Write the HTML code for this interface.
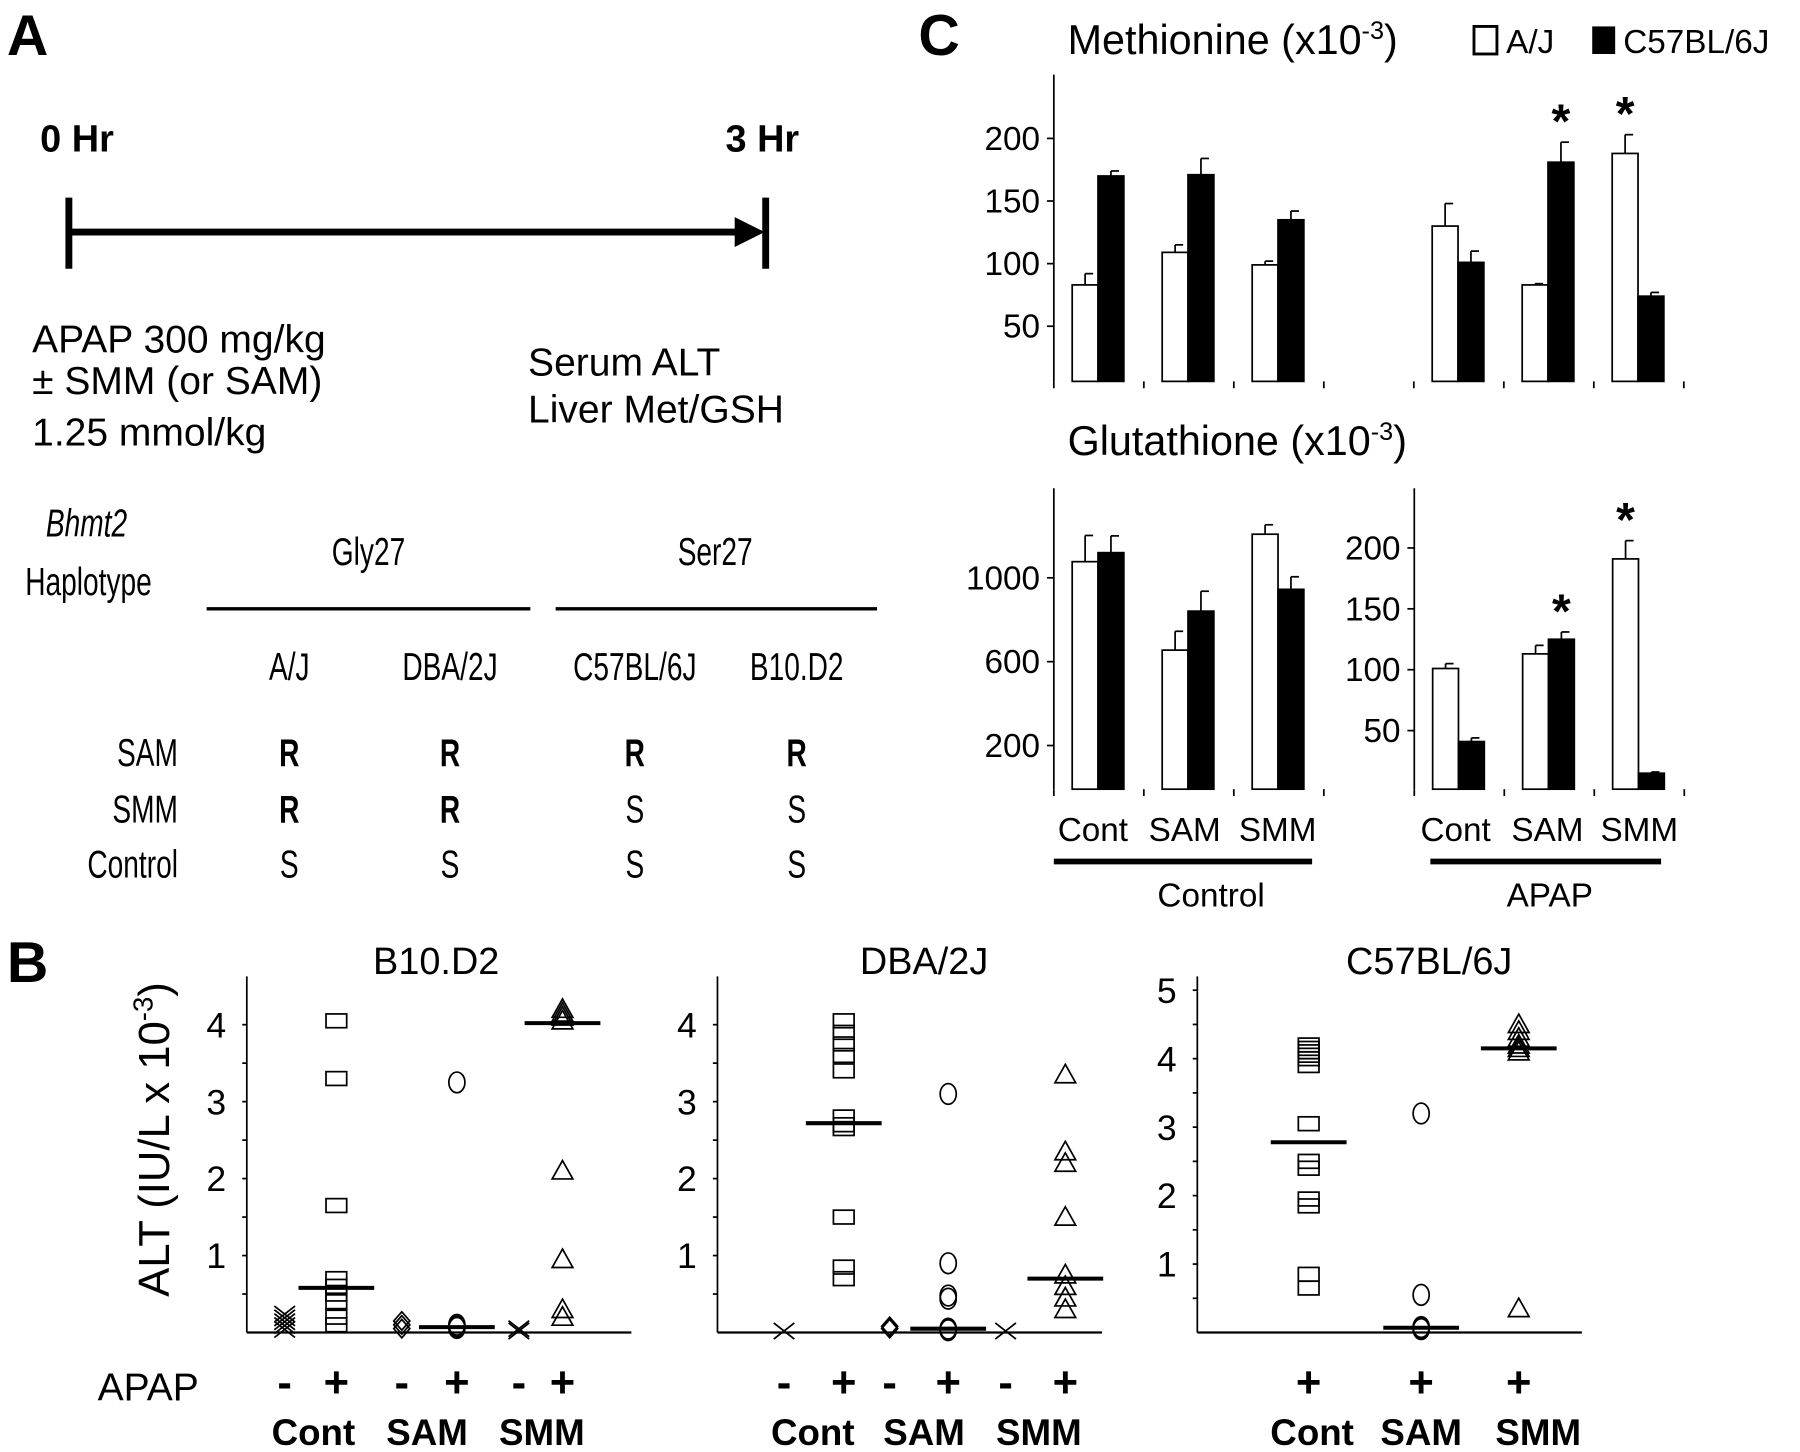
<!DOCTYPE html>
<html><head><meta charset="utf-8"><style>
html,body{margin:0;padding:0;background:#fff}
svg{display:block}
text{font-family:"Liberation Sans",sans-serif;fill:#000}
</style></head><body>
<svg id="fig" width="1800" height="1452" viewBox="0 0 1568 1264" preserveAspectRatio="none" xmlns="http://www.w3.org/2000/svg">
<g>
<text x="6" y="48" font-size="50" font-weight="bold">A</text>
<text x="35" y="132" font-size="33" font-weight="bold">0 Hr</text>
<text x="632" y="132" font-size="33" font-weight="bold">3 Hr</text>
<line x1="60" y1="202" x2="648" y2="202" stroke="#000" stroke-width="6"/>
<line x1="60" y1="172" x2="60" y2="234" stroke="#000" stroke-width="6"/>
<polygon points="640,189 666,202 640,215" fill="#000"/>
<line x1="667" y1="172" x2="667" y2="234" stroke="#000" stroke-width="6"/>
<text x="28" y="307" font-size="34">APAP 300 mg/kg</text>
<text x="28" y="343" font-size="34">± SMM (or SAM)</text>
<text x="28" y="388" font-size="34">1.25 mmol/kg</text>
<text x="460" y="327" font-size="34">Serum ALT</text>
<text x="460" y="368" font-size="34">Liver Met/GSH</text>
<g font-size="34">
<text transform="translate(40,467) scale(0.72,1)" font-style="italic">Bhmt2</text>
<text transform="translate(22,518) scale(0.72,1)">Haplotype</text>
<text transform="translate(321,492) scale(0.72,1)" text-anchor="middle">Gly27</text>
<text transform="translate(623,492) scale(0.72,1)" text-anchor="middle">Ser27</text>
<line x1="180" y1="530" x2="462" y2="530" stroke="#000" stroke-width="3"/>
<line x1="484" y1="530" x2="764" y2="530" stroke="#000" stroke-width="3"/>
<text transform="translate(252,592) scale(0.72,1)" text-anchor="middle">A/J</text>
<text transform="translate(392,592) scale(0.72,1)" text-anchor="middle">DBA/2J</text>
<text transform="translate(553,592) scale(0.72,1)" text-anchor="middle">C57BL/6J</text>
<text transform="translate(694,592) scale(0.72,1)" text-anchor="middle">B10.D2</text>
<text transform="translate(155,667) scale(0.72,1)" text-anchor="end">SAM</text>
<text transform="translate(155,716) scale(0.72,1)" text-anchor="end">SMM</text>
<text transform="translate(155,764) scale(0.72,1)" text-anchor="end">Control</text>
<g text-anchor="middle">
<text transform="translate(252,667) scale(0.72,1)" font-weight="bold">R</text><text transform="translate(392,667) scale(0.72,1)" font-weight="bold">R</text><text transform="translate(553,667) scale(0.72,1)" font-weight="bold">R</text><text transform="translate(694,667) scale(0.72,1)" font-weight="bold">R</text>
<text transform="translate(252,716) scale(0.72,1)" font-weight="bold">R</text><text transform="translate(392,716) scale(0.72,1)" font-weight="bold">R</text><text transform="translate(553,716) scale(0.72,1)">S</text><text transform="translate(694,716) scale(0.72,1)">S</text>
<text transform="translate(252,764) scale(0.72,1)">S</text><text transform="translate(392,764) scale(0.72,1)">S</text><text transform="translate(553,764) scale(0.72,1)">S</text><text transform="translate(694,764) scale(0.72,1)">S</text>
</g></g>
</g>
<g id="pc">
<text x="800" y="48" font-size="50" font-weight="bold">C</text>
<text x="930" y="47" font-size="36">Methionine (x10<tspan dy="-13" font-size="22">-3</tspan><tspan dy="13">)</tspan></text>
<rect x="1284" y="23" width="20" height="24" fill="#fff" stroke="#000" stroke-width="2.5"/>
<text x="1312" y="46" font-size="29">A/J</text>
<rect x="1387" y="23" width="20" height="24" fill="#000"/>
<text x="1414" y="46" font-size="29">C57BL/6J</text>
<text x="930" y="396" font-size="36">Glutathione (x10<tspan dy="-13" font-size="22">-3</tspan><tspan dy="13">)</tspan></text>
<g font-size="29" text-anchor="middle">
<text x="952" y="732">Cont</text><text x="1032" y="732">SAM</text><text x="1113" y="732">SMM</text>
<text x="1268" y="732">Cont</text><text x="1348" y="732">SAM</text><text x="1428" y="732">SMM</text>
<text x="1055" y="789">Control</text><text x="1350" y="789">APAP</text>
</g>
<line x1="918" y1="750" x2="1143" y2="750" stroke="#000" stroke-width="5"/>
<line x1="1246" y1="750" x2="1447" y2="750" stroke="#000" stroke-width="5"/>
</g>
<g id="pb">
<text x="6" y="855" font-size="50" font-weight="bold">B</text>
<text transform="translate(147,992) rotate(-90)" font-size="38" text-anchor="middle">ALT (IU/L x 10<tspan dy="-14" font-size="24">-3</tspan><tspan dy="14">)</tspan></text>
<text x="85" y="1219" font-size="34">APAP</text>
</g>
</svg>
<script>
const NS="http://www.w3.org/2000/svg";
// ---- Panel C data ----
const metCats=["Cont","SAM","SMM","","Cont","SAM","SMM"];
const metAJ=[83,109,99,null,130,83,188];
const metAJErr=[9,6,3,null,18,1,15];
const metB6=[170,171,135,null,101,181,74];
const metB6Err=[4,13,7,null,9,16,3];
const metStarsB6=[5];const metStarsAJ=[6];
const metTicks=[50,100,150,200];
const gshCtrlAJ=[1077,655,1208];const gshCtrlAJErr=[125,90,45];
const gshCtrlB6=[1120,841,945];const gshCtrlB6Err=[80,95,60];
const gshCtrlTicks=[200,600,1000];
const gshApapAJ=[101,113,191];const gshApapAJErr=[4,7,15];
const gshApapB6=[41,125,15];const gshApapB6Err=[3,6,1];
const gshApapTicks=[50,100,150,200];
const gshApapStarsB6=[1];const gshApapStarsAJ=[2];
// ---- Panel B data ----
const altCats=["-","+","-","+","-","+"];
const b10=[[0.04,0.09,0.14,0.19,0.24],[4.05,3.3,1.65,0.7,0.6,0.5,0.4,0.2,0.1],[0.05,0.1,0.15],[3.25,0.1,0.08,0.06],[0.02,0.05],[4.2,4.15,4.1,4.05,2.1,0.95,0.3,0.2]];
const b10Med=[null,0.58,null,0.07,null,4.02];
const dba=[[0.02],[4.05,3.9,3.75,3.6,3.4,2.8,2.7,2.65,1.5,0.85,0.7],[0.05,0.08],[3.1,0.9,0.48,0.44,0.05,0.03],[0.02],[3.35,2.35,2.2,1.5,0.75,0.6,0.45,0.3]];
const dbaMed=[null,2.72,null,0.05,null,0.7];
const c57=[[4.2,4.15,4.1,4.05,4.0,3.9,3.05,2.5,2.4,1.95,1.85,0.85,0.65],[3.2,0.55,0.08,0.06,0.05],[4.5,4.4,4.3,4.2,4.15,4.1,0.35]];
const c57Med=[2.78,0.07,4.15];
const b10Ticks=[1,2,3,4], dbaTicks=[1,2,3,4], c57Ticks=[1,2,3,4,5];

function mk(parent,tag,attrs,name,txt){const e=document.createElementNS(NS,tag);for(const k in attrs)e.setAttribute(k,attrs[k]);


if(txt!==undefined)e.textContent=txt;parent.appendChild(e);return e;}

const pc=document.getElementById('pc');
function barChart(o){
  const y=v=>o.y0-v*o.k;
  const g=mk(pc,'g',{},o.name);
  mk(g,'line',{x1:o.ax,y1:o.top,x2:o.ax,y2:o.base,stroke:'#000','stroke-width':1.5},'y-axis');
  o.ticks.forEach(t=>{mk(g,'line',{x1:o.ax-6,y1:y(t),x2:o.ax,y2:y(t),stroke:'#000','stroke-width':1.5},'y-tick');
    mk(g,'text',{x:o.ax-12,y:y(t)+10,'font-size':29,'text-anchor':'end'},'y-tick-label',String(t));});
  for(let i=0;i<=o.n;i++){const x=o.ax+i*o.step;mk(g,'line',{x1:x,y1:o.base,x2:x,y2:o.base+6,stroke:'#000','stroke-width':1.5},'x-tick');}
  const series=[[o.aj,o.ajE,'#fff',0,o.starAJ],[o.b6,o.b6E,'#000',1,o.starB6]];
  series.forEach(([vals,errs,fill,off,stars])=>{
    vals.forEach((v,i)=>{if(v==null)return;
      const x=o.ax+i*o.step+16+off*22.5, w=22.5, cx=x+w/2;
      mk(g,'line',{x1:cx,y1:y(v),x2:cx,y2:y(v+errs[i]),stroke:'#000','stroke-width':1.5},'error-bar');
      mk(g,'line',{x1:cx,y1:y(v+errs[i]),x2:cx+7,y2:y(v+errs[i]),stroke:'#000','stroke-width':1.5},'error-cap');
      mk(g,'rect',{x:x,y:y(v),width:w,height:o.base-y(v),fill:fill,stroke:'#000','stroke-width':1.5},off?'bar-c57bl6j':'bar-aj');
      if(stars.includes(i))mk(g,'text',{x:cx,y:y(v+errs[i])-4,'font-size':42,'font-weight':'bold','text-anchor':'middle'},'significance-star','*');
    });
  });
}
barChart({name:'methionine-chart',ax:918,top:65,base:332,y0:338.5,k:1.09,step:78.4,n:7,ticks:metTicks,aj:metAJ,ajE:metAJErr,b6:metB6,b6E:metB6Err,starAJ:metStarsAJ,starB6:metStarsB6});
barChart({name:'gsh-control-chart',ax:918,top:425,base:687,y0:685.5,k:0.1825,step:78.4,n:3,ticks:gshCtrlTicks,aj:gshCtrlAJ,ajE:gshCtrlAJErr,b6:gshCtrlB6,b6E:gshCtrlB6Err,starAJ:[],starB6:[]});
barChart({name:'gsh-apap-chart',ax:1232,top:425,base:687,y0:689,k:1.06,step:78.4,n:3,ticks:gshApapTicks,aj:gshApapAJ,ajE:gshApapAJErr,b6:gshApapB6,b6E:gshApapB6Err,starAJ:gshApapStarsAJ,starB6:gshApapStarsB6});

const pb=document.getElementById('pb');
function marker(g,type,x,y){
  const s={stroke:'#000','stroke-width':1.5,fill:'none'};
  if(type==='x'){mk(g,'path',Object.assign({d:`M${x-9},${y-7}L${x+9},${y+7}M${x-9},${y+7}L${x+9},${y-7}`},s),'x-marker');}
  else if(type==='sq'){mk(g,'rect',Object.assign({x:x-9,y:y-6,width:18,height:12},s),'square-marker');}
  else if(type==='di'){mk(g,'path',Object.assign({d:`M${x},${y-8}L${x+7},${y}L${x},${y+8}L${x-7},${y}Z`},s),'diamond-marker');}
  else if(type==='ci'){mk(g,'ellipse',Object.assign({cx:x,cy:y,rx:7,ry:9},s),'circle-marker');}
  else {mk(g,'path',Object.assign({d:`M${x},${y-9}L${x+9},${y+7}L${x-9},${y+7}Z`},s),'triangle-marker');}
}
function scatter(o){
  const y=v=>o.base-v*o.k;
  const g=mk(pb,'g',{},o.name);
  mk(g,'text',{x:o.tx,y:848,'font-size':33,'text-anchor':'middle'},'chart-title',o.title);
  mk(g,'line',{x1:o.ax,y1:850,x2:o.ax,y2:o.base,stroke:'#000','stroke-width':1.5},'y-axis');
  mk(g,'line',{x1:o.ax,y1:o.base,x2:o.ax+335,y2:o.base,stroke:'#000','stroke-width':2},'x-axis');
  const mx=o.ticks[o.ticks.length-1];
  for(let h=0.5;h<=mx+0.01;h+=0.5)mk(g,'line',{x1:o.ax-4,y1:y(h),x2:o.ax,y2:y(h),stroke:'#000','stroke-width':1.5},'y-tick');
  o.ticks.forEach(t=>mk(g,'text',{x:o.ax-18,y:y(t)+11,'font-size':31,'text-anchor':'end'},'y-tick-label',String(t)));
  o.data.forEach((col,i)=>{const x=o.cols[i];
    col.forEach(v=>marker(g,o.types[i],x,y(v)));
    if(o.med[i]!=null)mk(g,'line',{x1:x-33,y1:y(o.med[i]),x2:x+33,y2:y(o.med[i]),stroke:'#000','stroke-width':3.5},'median-line');
    if(o.signs)mk(g,'text',{x:x,y:1216,'font-size':38,'font-weight':'bold','text-anchor':'middle'},'apap-sign',o.signs[i]);
  });
  o.labels.forEach((l,i)=>mk(g,'text',{x:o.lx[i],y:1258,'font-size':32,'font-weight':'bold','text-anchor':'middle'},'treatment-label',l));
}
scatter({name:'b10d2-chart',title:'B10.D2',tx:380,ax:215,base:1160,k:67,ticks:b10Ticks,data:b10,med:b10Med,cols:[248,293,350,398,452,490],types:['x','sq','di','ci','x','tr'],signs:altCats,labels:['Cont','SAM','SMM'],lx:[273,372,472]});
scatter({name:'dba2j-chart',title:'DBA/2J',tx:805,ax:625,base:1160,k:67,ticks:dbaTicks,data:dba,med:dbaMed,cols:[683,735,775,826,876,928],types:['x','sq','di','ci','x','tr'],signs:altCats,labels:['Cont','SAM','SMM'],lx:[708,805,905]});
scatter({name:'c57bl6j-chart',title:'C57BL/6J',tx:1245,ax:1043,base:1160,k:59.6,ticks:c57Ticks,data:c57,med:c57Med,cols:[1140,1238,1323],types:['sq','ci','tr'],signs:['+','+','+'],labels:['Cont','SAM','SMM'],lx:[1143,1238,1340]});
</script>
</body></html>
